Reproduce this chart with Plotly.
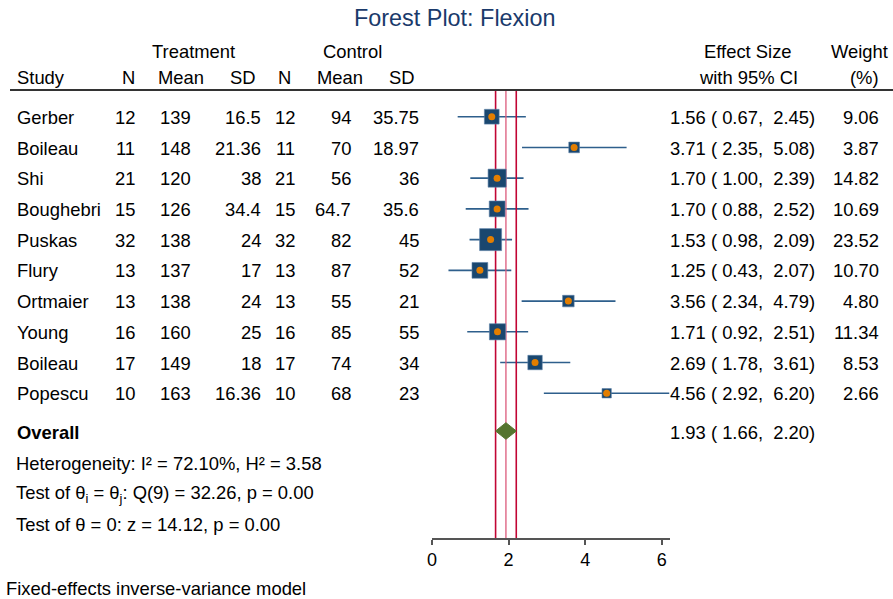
import plotly.graph_objects as go
import math

# ---------------- data ----------------
studies = ["Gerber", "Boileau", "Shi", "Boughebri", "Puskas", "Flury",
           "Ortmaier", "Young", "Boileau", "Popescu"]
t_n = [12, 11, 21, 15, 32, 13, 13, 16, 17, 10]
t_mean = [139, 148, 120, 126, 138, 137, 138, 160, 149, 163]
t_sd = [16.5, 21.36, 38, 34.4, 24, 17, 24, 25, 18, 16.36]
c_n = [12, 11, 21, 15, 32, 13, 13, 16, 17, 10]
c_mean = [94, 70, 56, 64.7, 82, 87, 55, 85, 74, 68]
c_sd = [35.75, 18.97, 36, 35.6, 45, 52, 21, 55, 34, 23]
es = [1.56, 3.71, 1.70, 1.70, 1.53, 1.25, 3.56, 1.71, 2.69, 4.56]
lo = [0.67, 2.35, 1.00, 0.88, 0.98, 0.43, 2.34, 0.92, 1.78, 2.92]
hi = [2.45, 5.08, 2.39, 2.52, 2.09, 2.07, 4.79, 2.51, 3.61, 6.20]
weight = [9.06, 3.87, 14.82, 10.69, 23.52, 10.70, 4.80, 11.34, 8.53, 2.66]
overall = {"es": 1.93, "lo": 1.66, "hi": 2.20}
x_ticks = [0, 2, 4, 6]
stats_lines = [
    "Heterogeneity: I² = 72.10%, H² = 3.58",
    "Test of θ<sub>i</sub> = θ<sub>j</sub>: Q(9) = 32.26, p = 0.00",
    "Test of θ = 0: z = 14.12, p = 0.00",
]
note = "Fixed-effects inverse-variance model"
title = "Forest Plot: Flexion"

# ---------------- layout helpers ----------------
W, H = 893, 599
ROW0, ROWH = 116.7, 30.73          # pixel centre of first row, row height
FONT = "Liberation Sans, Arial, Helvetica, sans-serif"
FS = 18.4
NAVY = "#1a476f"
ORANGE = "#e37e00"
GREEN = "#55752f"
RED = "#c10534"


def px(x):
    return x / W


def py(y):
    return 1 - y / H


def row_of(y):
    return (y - ROW0) / ROWH


rows = list(range(len(studies)))
overall_row = row_of(431.0)

fig = go.Figure()

# CI lines
for i in rows:
    fig.add_trace(go.Scatter(x=[lo[i], hi[i]], y=[i, i], mode="lines",
                             line=dict(color="#2e5f8c", width=1.6),
                             hoverinfo="skip", showlegend=False))

# vertical reference lines (overall CI and estimate)
top_row, bot_row = row_of(91), row_of(539)
for v, col, wd in [(overall["lo"], RED, 1.6), (overall["hi"], RED, 1.6),
                   (overall["es"], "#dc5a7c", 1.3)]:
    fig.add_trace(go.Scatter(x=[v, v], y=[top_row, bot_row], mode="lines",
                             line=dict(color=col, width=wd),
                             hoverinfo="skip", showlegend=False))

# weight squares
sizes = [2.9 + 3.94 * math.sqrt(w) for w in weight]
fig.add_trace(go.Scatter(x=es, y=rows, mode="markers",
                         marker=dict(symbol="square", size=sizes, color=NAVY,
                                     opacity=1,
                                     line=dict(width=0.6, color="#5d82a8")),
                         hoverinfo="skip", showlegend=False))
fig.add_trace(go.Scatter(x=es, y=rows, mode="markers",
                         marker=dict(symbol="circle", size=7, color=ORANGE,
                                     opacity=1, line=dict(width=0)),
                         hoverinfo="skip", showlegend=False))

# overall diamond
dh = 0.27
fig.add_trace(go.Scatter(
    x=[overall["lo"], overall["es"], overall["hi"], overall["es"], overall["lo"]],
    y=[overall_row, overall_row - dh, overall_row, overall_row + dh, overall_row],
    mode="lines", fill="toself", fillcolor=GREEN,
    line=dict(color=GREEN, width=1), hoverinfo="skip", showlegend=False))

ann = []


def txt(x, y, s, anchor="left", yref="paper", size=FS, color="black",
        bold=False, pad=1):
    if bold:
        s = "<b>" + s + "</b>"
    ann.append(dict(x=x, y=y, xref="paper", yref=yref, text=s, showarrow=False,
                    xanchor=anchor, yanchor="middle", borderpad=pad,
                    font=dict(family=FONT, size=size, color=color)))


# headers
HY1, HY2 = 51.5, 77.5
txt(px(193), py(HY1), "Treatment", "center")
txt(px(352), py(HY1), "Control", "center")
txt(px(748), py(HY1), "Effect Size", "center")
txt(px(859), py(HY1), "Weight", "center")
txt(px(15), py(HY2), "Study")
txt(px(137), py(HY2), "N", "right")
txt(px(181), py(HY2), "Mean", "center")
txt(px(242.5), py(HY2), "SD", "center")
txt(px(293), py(HY2), "N", "right")
txt(px(340), py(HY2), "Mean", "center")
txt(px(401.5), py(HY2), "SD", "center")
txt(px(748), py(HY2), "with 95% CI", "center")
txt(px(864.5), py(HY2), "(%)", "center")


def g(v):
    return f"{v:g}"


def ci_text(e, l, h):
    return f"{e:.2f} ( {l:.2f},\u00a0 {h:.2f})"


for i in rows:
    y = i + 0.02
    txt(px(15), y, studies[i], yref="y")
    txt(px(137), y, g(t_n[i]), "right", yref="y")
    txt(px(193), y, g(t_mean[i]), "right", yref="y")
    txt(px(263), y, g(t_sd[i]), "right", yref="y")
    txt(px(297), y, g(c_n[i]), "right", yref="y")
    txt(px(353), y, g(c_mean[i]), "right", yref="y")
    txt(px(421), y, g(c_sd[i]), "right", yref="y")
    txt(px(817), y, ci_text(es[i], lo[i], hi[i]), "right", yref="y")
    txt(px(881), y, f"{weight[i]:.2f}", "right", yref="y")

txt(px(15), row_of(432.5), "Overall", yref="y", bold=True)
txt(px(817), row_of(432.5), ci_text(overall["es"], overall["lo"], overall["hi"]),
    "right", yref="y")

for k, s in enumerate(stats_lines):
    txt(px(14), py([463, 494, 524.5][k]), s)

txt(px(5), py(588.5), note, pad=0)
txt(px(455), py(18), title, "center", size=23.4, color="#1a3a6b")

fig.update_layout(
    width=W, height=H,
    margin=dict(l=0, r=0, t=0, b=0, pad=0, autoexpand=False),
    paper_bgcolor="white", plot_bgcolor="rgba(0,0,0,0)",
    annotations=ann,
    shapes=[dict(type="line", xref="paper", yref="paper",
                 x0=px(10), x1=1, y0=py(90), y1=py(90),
                 line=dict(color="#333333", width=2))],
    xaxis=dict(domain=[px(432), px(669.5)], range=[0, 6.2],
               anchor="free", position=py(539), automargin=False,
               showgrid=False, zeroline=False, showline=True,
               linecolor="#555555", linewidth=1.5,
               ticks="outside", ticklen=5, tickwidth=1.5, tickcolor="#555555",
               tickvals=x_ticks, ticktext=[str(t) for t in x_ticks],
               tickfont=dict(family=FONT, size=18, color="black")),
    yaxis=dict(domain=[0, 1], range=[row_of(H), row_of(0)], visible=False,
               automargin=False),
    showlegend=False,
)

fig.write_html("out.html",
               config={"displayModeBar": False},
               post_script="document.body.style.margin='0';"
                           "document.body.style.overflow='hidden';")
